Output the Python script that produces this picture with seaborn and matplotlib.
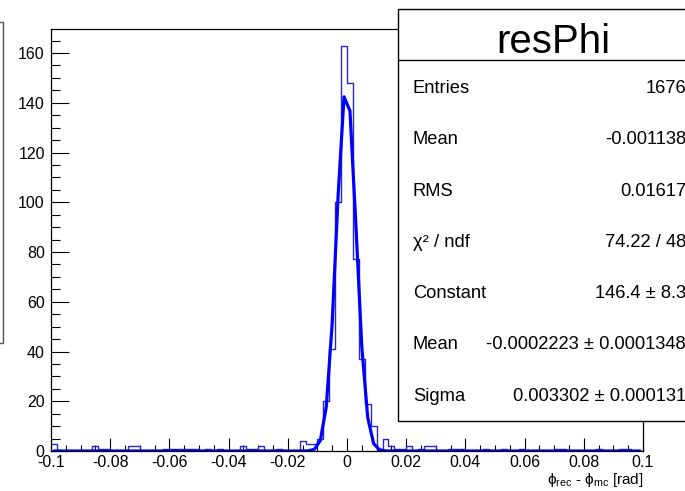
import numpy as np
import pandas as pd
import matplotlib
matplotlib.use("Agg")
import matplotlib.pyplot as plt
import seaborn as sns
from matplotlib.patches import Rectangle
from matplotlib.lines import Line2D
from matplotlib.ticker import MultipleLocator, FixedLocator, FixedFormatter

# ---------------- data ----------------
x_min, x_max, n_bins = -0.1, 0.1, 100
counts = [3, 0, 0, 0, 0, 0, 0, 2, 1, 1,
          0, 0, 0, 2, 2, 0, 0, 0, 0, 1,
          1, 1, 1, 1, 1, 0, 1, 0, 1, 0,
          0, 0, 2, 1, 1, 2, 0, 0, 1, 0,
          0, 0, 4, 3, 3, 5, 20, 41, 100, 163,
          148, 77, 37, 19, 10, 1, 5, 2, 1, 1,
          2, 0, 1, 2, 2, 0, 0, 1, 1, 1,
          0, 0, 0, 1, 0, 0, 1, 0, 0, 1,
          0, 0, 0, 0, 0, 1, 1, 0, 0, 0,
          0, 0, 1, 0, 0, 0, 1, 1, 0, 0]
fit_constant = 146.4
fit_mean = -0.0002223
fit_sigma = 0.003302

stats_title = "resPhi"
stats_labels = ["Entries", "Mean", "RMS", "\u03c7\u00b2 / ndf", "Constant", "Mean", "Sigma"]
stats_values = ["1676", "-0.001138", "0.01617", "74.22 / 48", "146.4 \u00b1 8.3",
                "-0.0002223 \u00b1 0.0001348", "0.003302 \u00b1 0.000131"]

x_ticks = [-0.1, -0.08, -0.06, -0.04, -0.02, 0.0, 0.02, 0.04, 0.06, 0.08, 0.1]
x_tick_labels = ["-0.1", "-0.08", "-0.06", "-0.04", "-0.02", "0", "0.02", "0.04", "0.06", "0.08", "0.1"]
y_ticks = [0, 20, 40, 60, 80, 100, 120, 140, 160]
y_tick_labels = ["0", "20", "40", "60", "80", "100", "120", "140", "160"]
x_title = r"$\mathrm{\phi}_{\rm rec}$ - $\mathrm{\phi}_{\rm mc}$ [rad]"

# ---------------- style ----------------
sns.set_theme(style="ticks")
plt.rcParams['font.family'] = ['Liberation Sans', 'DejaVu Sans']
plt.rcParams['mathtext.fontset'] = 'custom'
plt.rcParams['mathtext.rm'] = 'Liberation Sans'
plt.rcParams['mathtext.it'] = 'Liberation Sans:italic'

W, H = 685, 491
fig = plt.figure(figsize=(W / 100, H / 100), dpi=100)
fig.patch.set_facecolor("white")

ax_left, ax_right, ax_top, ax_bottom = 51, 643, 29.3, 451
ax = fig.add_axes([ax_left / W, 1 - ax_bottom / H, (ax_right - ax_left) / W, (ax_bottom - ax_top) / H])
ax.set_facecolor("white")

edges = np.linspace(x_min, x_max, n_bins + 1)
centers = 0.5 * (edges[:-1] + edges[1:])
df = pd.DataFrame({"x": centers, "n": np.asarray(counts, dtype=float)})

sns.histplot(data=df, x="x", weights="n", bins=n_bins, binrange=(x_min, x_max),
             element="step", fill=False, color="#2a2ab8", linewidth=1.0, ax=ax)

fit_y = fit_constant * np.exp(-0.5 * ((centers - fit_mean) / fit_sigma) ** 2)
fit_df = pd.DataFrame({"x": centers, "y": fit_y})
sns.lineplot(data=fit_df, x="x", y="y", color="#0000ff", linewidth=2.3, ax=ax, sort=False,
             estimator=None)

ax.set_xlim(x_min, x_max)
ax.set_ylim(0, (ax_bottom - ax_top) / 2.4875)
ax.set_xlabel("")
ax.set_ylabel("")

ax.xaxis.set_major_locator(FixedLocator(x_ticks))
ax.xaxis.set_major_formatter(FixedFormatter(x_tick_labels))
ax.xaxis.set_minor_locator(MultipleLocator(0.005))
ax.yaxis.set_major_locator(FixedLocator(y_ticks))
ax.yaxis.set_major_formatter(FixedFormatter(y_tick_labels))
ax.yaxis.set_minor_locator(MultipleLocator(5))

ax.tick_params(axis='x', which='major', direction='in', length=9.1, width=0.8, color='black',
               labelsize=11.5, pad=3, top=False, labelcolor='black')
ax.tick_params(axis='x', which='minor', direction='in', length=4.5, width=0.8, color='black', top=False)
ax.tick_params(axis='y', which='major', direction='in', length=12.8, width=0.8, color='black',
               labelsize=11.5, pad=4.5, right=False, labelcolor='black')
ax.tick_params(axis='y', which='minor', direction='in', length=6.4, width=0.8, color='black', right=False)
for s in ax.spines.values():
    s.set_visible(True)
    s.set_color("black")
    s.set_linewidth(0.9)

# x axis title
fig.text(ax_right / W, 1 - 484 / H, x_title, ha='right', va='baseline', fontsize=11, color='black')

# ---------------- stats box ----------------
def fx(px):
    return px / W

def fy(py):
    return 1 - py / H

box_l, box_t, box_b = 398, 9.3, 420.7
fig.add_artist(Rectangle((fx(box_l), fy(box_b)), fx(730) - fx(box_l), (box_b - box_t) / H,
                         transform=fig.transFigure, facecolor="white", edgecolor="black",
                         linewidth=1.0, zorder=5))
fig.add_artist(Line2D([fx(box_l), fx(730)], [fy(60), fy(60)], transform=fig.transFigure,
                      color="black", linewidth=1.0, zorder=6))
fig.text(fx(553), fy(53.3), stats_title, ha='center', va='baseline', fontsize=29, color='black', zorder=7)
row0, drow = 93.3, 51.2
for i, (lab, val) in enumerate(zip(stats_labels, stats_values)):
    yb = row0 + i * drow
    fig.text(fx(413), fy(yb), lab, ha='left', va='baseline', fontsize=13.2, color='black', zorder=7)
    fig.text(fx(686), fy(yb), val, ha='right', va='baseline', fontsize=13.2, color='black', zorder=7)

# partial box clipped at the left edge
fig.add_artist(Rectangle((fx(-10), fy(343)), fx(2.7) - fx(-10), (343 - 22) / H,
                         transform=fig.transFigure, facecolor="none", edgecolor="#555555",
                         linewidth=1.0, zorder=5))

fig.savefig("out.png", dpi=100, facecolor="white")
